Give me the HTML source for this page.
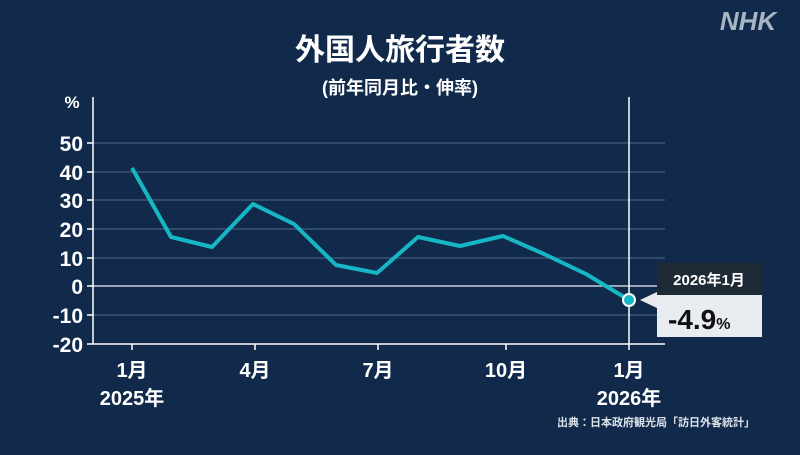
<!DOCTYPE html>
<html><head><meta charset="utf-8"><style>
body{margin:0;background:#112a4b;width:800px;height:450px;overflow:hidden}
svg text{font-family:"Liberation Sans","Noto Sans CJK JP",sans-serif;fill:#fff}
</style></head><body>
<svg width="800" height="450" viewBox="0 0 800 450">
<rect width="800" height="450" fill="#112a4b"/>
<text x="748" y="30" font-size="26" font-weight="bold" font-style="italic" fill="#a9b4c2" style="fill:#aab5c3" text-anchor="middle">NHK</text>
<text x="400" y="60" font-size="30" font-weight="bold" text-anchor="middle">外国人旅行者数</text>
<text x="400" y="94" font-size="18" font-weight="bold" text-anchor="middle">(前年同月比・伸率)</text>
<g stroke="#3a5478" stroke-width="1.5">
<line x1="93" y1="143" x2="665" y2="143"/><line x1="93" y1="172" x2="665" y2="172"/>
<line x1="93" y1="200" x2="665" y2="200"/><line x1="93" y1="229" x2="665" y2="229"/>
<line x1="93" y1="258" x2="665" y2="258"/><line x1="93" y1="315" x2="665" y2="315"/>
</g>
<line x1="93" y1="286" x2="665" y2="286" stroke="#c8d0dc" stroke-width="1.5"/>
<line x1="93" y1="344" x2="665" y2="344" stroke="#fff" stroke-width="1.5"/>
<line x1="93" y1="97" x2="93" y2="344" stroke="#fff" stroke-width="1.5"/>
<line x1="629" y1="97" x2="629" y2="350" stroke="#fff" stroke-width="1.5"/>
<g stroke="#fff" stroke-width="1.5">
<line x1="87" y1="143" x2="93" y2="143"/><line x1="87" y1="172" x2="93" y2="172"/><line x1="87" y1="200" x2="93" y2="200"/><line x1="87" y1="229" x2="93" y2="229"/><line x1="87" y1="258" x2="93" y2="258"/><line x1="87" y1="286" x2="93" y2="286"/><line x1="87" y1="315" x2="93" y2="315"/><line x1="87" y1="344" x2="93" y2="344"/>
<line x1="132" y1="344" x2="132" y2="350"/><line x1="255" y1="344" x2="255" y2="350"/><line x1="378" y1="344" x2="378" y2="350"/><line x1="506" y1="344" x2="506" y2="350"/>
</g>
<g font-size="21" font-weight="bold" text-anchor="end">
<text x="83" y="151">50</text><text x="83" y="180">40</text><text x="83" y="208">30</text><text x="83" y="237">20</text><text x="83" y="266">10</text><text x="83" y="294">0</text><text x="83" y="323">-10</text><text x="83" y="352">-20</text>
</g>
<text x="72" y="108" font-size="17" font-weight="bold" text-anchor="middle">%</text>
<g font-size="20" font-weight="bold" text-anchor="middle">
<text x="132" y="377">1月</text><text x="132" y="405">2025年</text>
<text x="255" y="377">4月</text><text x="378" y="377">7月</text><text x="506" y="377">10月</text>
<text x="629" y="377">1月</text><text x="629" y="405">2026年</text>
</g>
<polyline fill="none" stroke="#16b7c4" stroke-width="4" stroke-linejoin="round" points="132,168 171,237 212,247 253,204 294,224 336,265 377,273 418,237 460,246 503,236 544,254 586,274 629,300"/>
<circle cx="629" cy="300" r="6" fill="#16b7c4" stroke="#fff" stroke-width="2"/>
<polygon points="640,300 657,292 657,308" fill="#e8ecf0"/>
<rect x="657" y="263" width="105" height="32" fill="#1e2b36"/>
<rect x="657" y="295" width="105" height="42" fill="#e8ecf0"/>
<text x="709" y="285" font-size="15" font-weight="bold" text-anchor="middle">2026年1月</text>
<text x="668" y="329" font-size="28" font-weight="bold" style="fill:#111">-4.9<tspan font-size="16">%</tspan></text>
<text x="755" y="426" font-size="11" font-weight="bold" text-anchor="end" style="fill:#dde3ea">出典：日本政府観光局「訪日外客統計」</text>
</svg>
</body></html>
